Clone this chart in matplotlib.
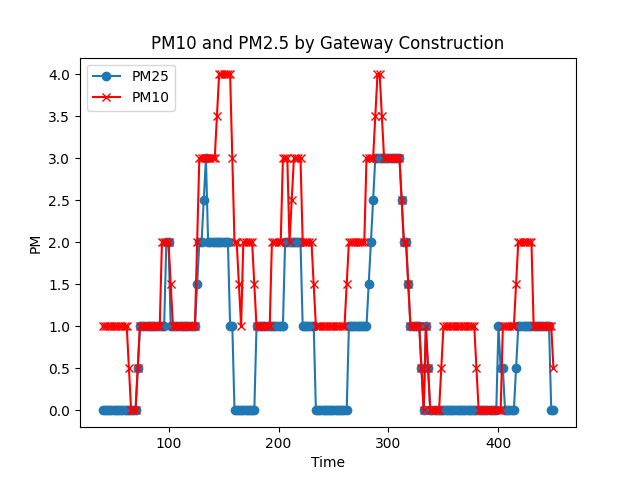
import numpy as np
import matplotlib
matplotlib.use('Agg')
import matplotlib.pyplot as plt

# Time axis, one reading every 2 units
time = list(range(40, 452, 2))

pm10 = ([1.0]*12 + [0.5] + [0.0]*3 + [0.5] + [1.0]*10 + [2.0]*4 + [1.5] + [1.0]*11 + [2.0]
        + [3.0]*8 + [3.5] + [4.0]*6 + [3.0] + [2.0]*2 + [1.5] + [1.0] + [2.0]*5 + [1.5]
        + [1.0]*7 + [2.0]*5 + [3.0]*3 + [2.0] + [2.5] + [3.0]*4 + [2.0]*5 + [1.5]
        + [1.0]*14 + [1.5] + [2.0]*8 + [3.0]*4 + [3.5] + [4.0]*2 + [3.5] + [3.0]*8 + [2.5]
        + [2.0]*2 + [1.5] + [1.0]*5 + [0.5] + [0.0] + [1.0] + [0.5] + [0.0]*5 + [0.5]
        + [1.0]*15 + [0.5] + [0.0]*11 + [1.0]*6 + [1.5] + [2.0]*7 + [1.0]*9 + [0.5])

pm25 = ([0.0]*16 + [0.5] + [1.0]*12 + [2.0]*2 + [1.0]*12 + [1.5] + [2.0]*2 + [2.5] + [3.0]
        + [2.0]*10 + [1.0]*2 + [0.0]*10 + [1.0]*13 + [2.0]*8 + [1.0]*6 + [0.0]*15
        + [1.0]*9 + [1.5] + [2.0] + [2.5] + [3.0]*12 + [2.5] + [2.0]*2 + [1.5] + [1.0]*5
        + [0.5] + [0.0] + [1.0] + [0.5] + [0.0]*31 + [1.0] + [0.5]*2 + [0.0]*5 + [0.5]
        + [1.0]*15 + [0.0]*2)

plt.figure(figsize=(6.4, 4.8), dpi=100)
plt.plot(time, pm25, marker='o', label='PM25')
plt.plot(time, pm10, marker='x', color='red', label='PM10')
plt.xlabel('Time')
plt.ylabel('PM')
plt.title('PM10 and PM2.5 by Gateway Construction')
plt.legend(loc='upper left')
plt.savefig('out.png')
